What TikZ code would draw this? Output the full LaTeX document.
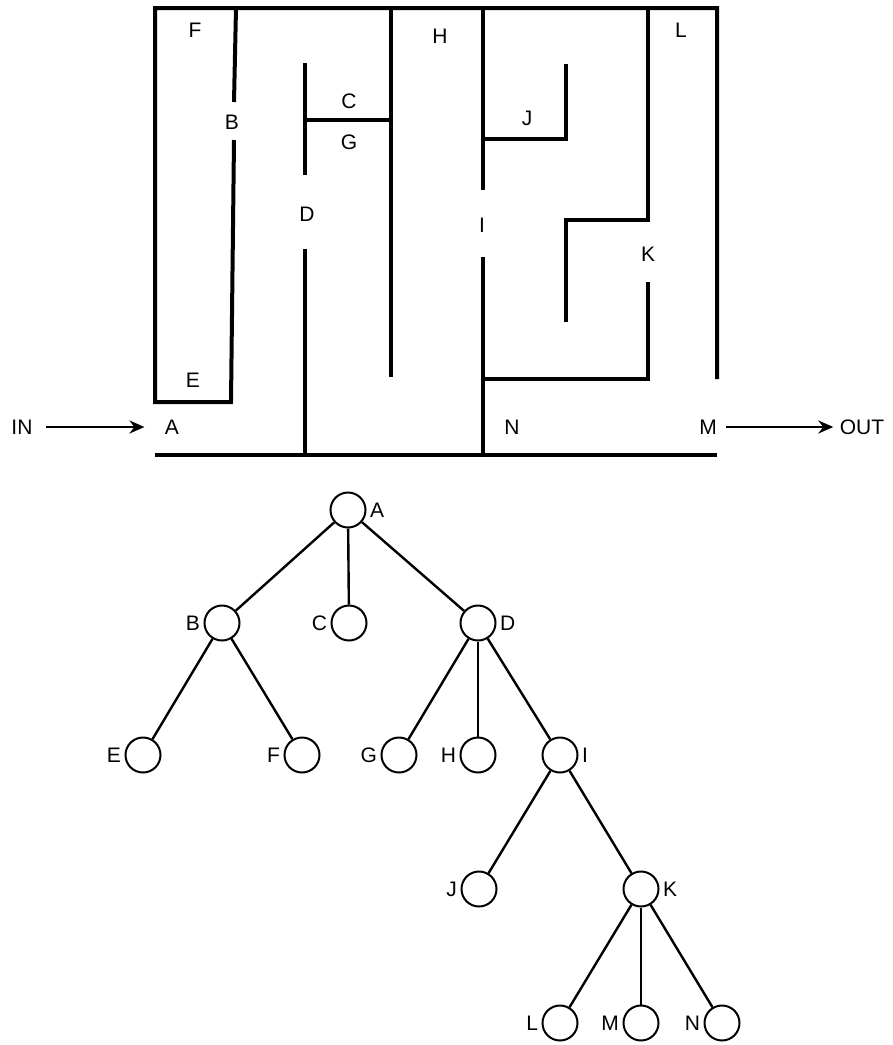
\documentclass[tikz,border=0pt]{standalone}
\usepackage{fontspec}
\setmainfont{Liberation Sans}
\usetikzlibrary{arrows.meta}
\begin{document}
\begin{tikzpicture}[x=1pt, y=-1pt, font=\fontsize{21}{21}\selectfont,
    wall/.style={line width=4pt},
    vertex/.style={circle, draw, line width=2pt, minimum size=35pt, inner sep=0pt, label distance=0pt},
    edge/.style={line width=2.4pt}]
  \useasboundingbox (0,0) rectangle (893,1045);

  % maze
  \draw[wall] (234,140) -- (231,402) -- (155,402) -- (155,8) -- (717,8) -- (717,379);
  \draw[wall] (236,8) -- (234,102);
  \draw[wall] (305,63) -- (305,175);
  \draw[wall] (305,120) -- (391,120);
  \draw[wall] (391,8) -- (391,377);
  \draw[wall] (305,249) -- (305,455);
  \draw[wall] (483,8) -- (483,190);
  \draw[wall] (483,257) -- (483,455);
  \draw[wall] (483,139) -- (566,139) -- (566,64);
  \draw[wall] (648,8) -- (648,220) -- (566,220) -- (566,322);
  \draw[wall] (483,379) -- (648,379) -- (648,282);
  \draw[wall] (155,455) -- (717,455);

  \node (mF) at (195,30) {F};
  \node (mB) at (232,122) {B};
  \node (mC) at (349,101) {C};
  \node (mG) at (349,142) {G};
  \node (mD) at (307,214) {D};
  \node (mE) at (193,380) {E};
  \node (mA) at (172,427) {A};
  \node (mH) at (440,36) {H};
  \node (mJ) at (527,118) {J};
  \node (mI) at (482,225) {I};
  \node (mK) at (648,254) {K};
  \node (mL) at (681,30) {L};
  \node (mN) at (512,427) {N};
  \node (mM) at (708,427) {M};
  \node (in) at (22,427) {IN};
  \node (out) at (862,427) {OUT};

  \draw[edge, -{Stealth[length=15pt,width=13pt]}, shorten <=10pt, shorten >=17pt] (in) -- (mA);
  \draw[edge, -{Stealth[length=15pt,width=13pt]}, shorten <=6pt, shorten >=3pt] (mM) -- (out);

  % tree
  \node[vertex, label=right:A] (tA) at (348,510) {};
  \node[vertex, label=left:B] (tB) at (222,623) {};
  \node[vertex, label=left:C] (tC) at (349,623) {};
  \node[vertex, label=right:D] (tD) at (478,623) {};
  \node[vertex, label=left:E] (tE) at (143,755) {};
  \node[vertex, label=left:F] (tF) at (302,755) {};
  \node[vertex, label=left:G] (tG) at (399,755) {};
  \node[vertex, label=left:H] (tH) at (478,755) {};
  \node[vertex, label=right:I] (tI) at (560,755) {};
  \node[vertex, label=left:J] (tJ) at (479,889) {};
  \node[vertex, label=right:K] (tK) at (641,889) {};
  \node[vertex, label=left:L] (tL) at (560,1023) {};
  \node[vertex, label=left:M] (tM) at (641,1023) {};
  \node[vertex, label=left:N] (tN) at (722,1023) {};

  \draw[edge] (tA) -- (tB);
  \draw[edge] (tA) -- (tC);
  \draw[edge] (tA) -- (tD);
  \draw[edge] (tB) -- (tE);
  \draw[edge] (tB) -- (tF);
  \draw[edge] (tD) -- (tG);
  \draw[edge] (tD) -- (tH);
  \draw[edge] (tD) -- (tI);
  \draw[edge] (tI) -- (tJ);
  \draw[edge] (tI) -- (tK);
  \draw[edge] (tK) -- (tL);
  \draw[edge] (tK) -- (tM);
  \draw[edge] (tK) -- (tN);
\end{tikzpicture}
\end{document}
